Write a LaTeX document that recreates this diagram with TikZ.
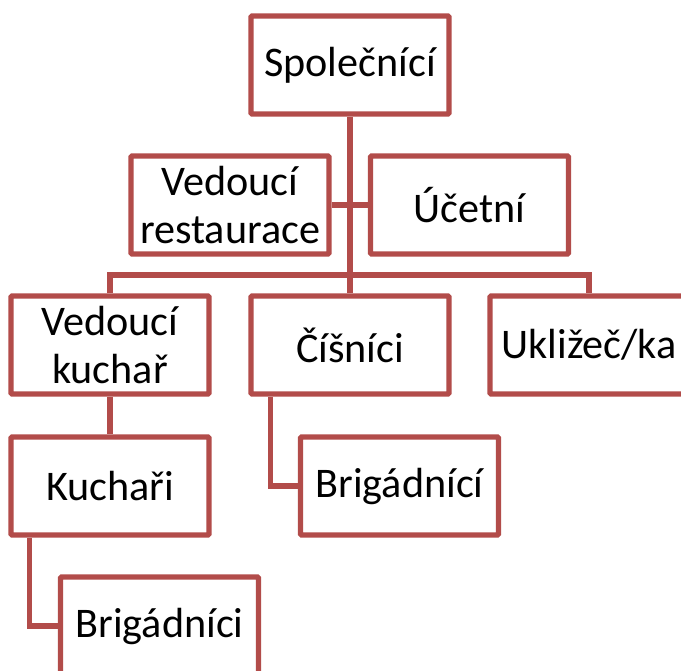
\documentclass[tikz,border=0pt]{standalone}
\usepackage{fontspec}
\setmainfont{Carlito}
\usepackage{tikz}
\definecolor{boxred}{RGB}{178,76,74}

\tikzset{
	orgbox/.style={draw=boxred, line width=3pt, fill=white, rounded corners=0.6pt,
		minimum width=3.96cm, minimum height=1.96cm, inner sep=0pt, align=center,
		font=\fontsize{24}{27.5}\selectfont},
	conn/.style={draw=boxred, line width=3pt}
}

\begin{document}
\begin{tikzpicture}[x=0.02cm, y=-0.02cm]
	\useasboundingbox (0,0) rectangle (681,671);
	% boxes
	\node[orgbox] (spol) at (350,65) {Společnící};
	\node[orgbox] (vedres) at (230,205) {Vedoucí\\restaurace};
	\node[orgbox] (ucet) at (469.5,205) {Účetní};
	\node[orgbox] (vedkuch) at (110,345) {Vedoucí\\kuchař};
	\node[orgbox] (cisnici) at (350,345) {Číšníci};
	\node[orgbox] (uklizec) at (589,345) {Ukližeč/ka};
	\node[orgbox] (kuchari) at (110,486) {Kuchaři};
	\node[orgbox] (brigA) at (399.5,486) {Brigádnící};
	\node[orgbox] (brigB) at (159.5,626) {Brigádníci};
	\coordinate (bar) at (350,275);
	% connectors
	\draw[conn] (spol) -- (cisnici);
	\draw[conn] (vedres.east) -- (ucet.west);
	\draw[conn] (vedkuch.north) |- (bar) -| (uklizec.north);
	\draw[conn] (vedkuch) -- (kuchari);
	\draw[conn] ([xshift=0.44cm]cisnici.south west) |- (brigA.west);
	\draw[conn] ([xshift=0.42cm]kuchari.south west) |- (brigB.west);
\end{tikzpicture}
\end{document}
